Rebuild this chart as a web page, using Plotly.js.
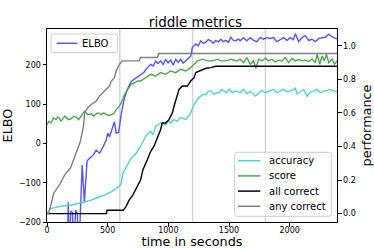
<!DOCTYPE html>
<html>
<head>
<meta charset="utf-8">
<script src="https://cdn.plot.ly/plotly-3.0.1.min.js"></script>
<style>html,body{margin:0;padding:0;background:#fff;}#chart{width:374px;height:249px;}</style>
</head>
<body>
<div id="chart"></div>
<script>
// ELBO (left axis)
const elboTime = [0,160,175,185,195,210,222,235,250,262,275,290,308,330,345,365,385,405,420,434,462,488,501,515,542,556,570,590,612,635,663,696,732,777,800,812,833,854,875,895,915,936,957,978,998,1019,1040,1061,1081,1102,1122,1143,1164,1185,1198,1226,1247,1267,1288,1308,1329,1350,1370,1391,1412,1432,1453,1474,1494,1515,1536,1556,1577,1592,1620,1647,1675,1702,1730,1757,1785,1812,1840,1868,1895,1922,1950,1978,2005,2030,2047,2074,2102,2129,2157,2184,2212,2240,2267,2294,2322,2350,2377,2390];
const elbo = [-400,-400,-150,-300,-172,-176,-300,-170,-178,-300,-175,-55,-150,-45,-40,-34,-28,-17,-22,-25,-9,8,26,17,42,55,26,28,75,112,138,158,166,176,181,187,195,201,197,209,203,210,201,213,205,212,199,214,206,214,204,210,215,222,244,253,248,261,255,257,264,261,255,262,258,265,259,262,257,270,262,261,266,261,269,261,269,262,259,269,265,269,267,269,259,265,269,262,269,264,279,259,269,274,262,265,259,267,269,270,278,271,267,266];

// performance (right axis)
const accTime = [0,28,55,110,198,254,308,364,418,474,529,570,598,608,625,653,694,736,771,812,854,875,895,936,978,1000,1019,1047,1074,1095,1116,1143,1164,1184,1212,1240,1267,1288,1308,1329,1350,1377,1398,1418,1440,1457,1480,1501,1529,1548,1565,1592,1620,1647,1675,1716,1744,1771,1799,1840,1868,1895,1923,1950,1978,2019,2047,2060,2088,2116,2143,2171,2198,2226,2253,2281,2309,2336,2364,2390];
const accuracy = [0,0.03,0.034,0.044,0.05,0.06,0.07,0.08,0.096,0.11,0.13,0.15,0.16,0.17,0.24,0.28,0.33,0.36,0.40,0.46,0.49,0.47,0.52,0.54,0.53,0.55,0.54,0.56,0.55,0.57,0.57,0.56,0.58,0.60,0.65,0.68,0.70,0.71,0.71,0.73,0.73,0.71,0.72,0.72,0.74,0.73,0.72,0.74,0.72,0.73,0.73,0.72,0.74,0.714,0.73,0.70,0.72,0.734,0.72,0.73,0.74,0.72,0.73,0.74,0.726,0.734,0.746,0.714,0.726,0.74,0.70,0.726,0.73,0.74,0.72,0.73,0.734,0.74,0.73,0.726];

const scoreTime = [0,17,33,55,74,90,102,115,129,145,157,175,198,220,240,260,281,308,336,364,385,405,425,446,468,488,510,529,550,570,597,625,639,666,694,722,749,771,812,854,895,936,978,1019,1061,1102,1143,1184,1212,1240,1281,1322,1364,1405,1432,1474,1515,1556,1565,1592,1620,1647,1675,1702,1722,1744,1771,1799,1826,1854,1881,1909,1936,1964,1991,2019,2047,2074,2102,2129,2157,2184,2212,2226,2248,2267,2286,2303,2322,2350,2369,2390];
const score = [0.53,0.55,0.54,0.57,0.56,0.575,0.57,0.55,0.565,0.58,0.575,0.56,0.565,0.58,0.575,0.56,0.58,0.61,0.59,0.595,0.58,0.595,0.60,0.59,0.60,0.59,0.585,0.59,0.595,0.62,0.64,0.68,0.71,0.74,0.77,0.78,0.79,0.79,0.81,0.83,0.82,0.84,0.83,0.85,0.84,0.86,0.85,0.87,0.89,0.91,0.92,0.91,0.91,0.92,0.91,0.91,0.92,0.91,0.91,0.92,0.90,0.93,0.89,0.91,0.866,0.92,0.91,0.926,0.91,0.92,0.904,0.914,0.91,0.93,0.90,0.926,0.91,0.918,0.91,0.914,0.906,0.92,0.90,0.95,0.89,0.94,0.91,0.95,0.90,0.92,0.89,0.91];

const allTime = [0,490,495,628,650,677,707,735,771,790,805,826,854,881,909,936,950,978,1005,1033,1047,1069,1088,1116,1157,1184,1212,1226,1253,1281,1310,1350,1391,2390];
const allCorrect = [0,0,0.02,0.02,0.04,0.08,0.11,0.15,0.20,0.26,0.29,0.32,0.37,0.40,0.45,0.50,0.54,0.54,0.56,0.60,0.64,0.69,0.74,0.76,0.76,0.79,0.81,0.84,0.85,0.86,0.866,0.87,0.878,0.878];

const anyTime = [0,13,28,55,83,110,138,165,193,220,248,275,300,310,335,364,405,432,460,488,515,530,556,570,597,620,700,760,770,910,920,2390];
const anyCorrect = [0,0,0.04,0.12,0.15,0.18,0.22,0.25,0.27,0.32,0.37,0.43,0.52,0.60,0.63,0.65,0.67,0.70,0.72,0.74,0.76,0.79,0.81,0.85,0.89,0.91,0.91,0.91,0.93,0.93,0.954,0.954];

const markerTimes = [600,1200,1800];
const xTicks = [0,500,1000,1500,2000];
const leftNames = ['ELBO'];
const rightNames = ['accuracy','score','all correct','any correct'];
const colors = {'ELBO':'#5555ff','accuracy':'#4fd4d4','score':'#4da64d','all correct':'#000000','any correct':'#808080'};

const F = 'DejaVu Sans, Arial, sans-serif';
const W = 374, H = 249, M = {l: 47, r: 37, t: 29, b: 27};
const PW = W - M.l - M.r, PH = H - M.t - M.b;
const px = v => (v - M.l) / PW;          // pixel -> paper x
const py = v => (M.t + PH - v) / PH;     // pixel -> paper y

const traces = [
  {x: elboTime, y: elbo, name: 'ELBO', mode: 'lines', line: {color: colors['ELBO'], width: 1.4}, yaxis: 'y'},
  {x: accTime, y: accuracy, name: 'accuracy', mode: 'lines', line: {color: colors['accuracy'], width: 1.4}, yaxis: 'y2'},
  {x: scoreTime, y: score, name: 'score', mode: 'lines', line: {color: colors['score'], width: 1.4}, yaxis: 'y2'},
  {x: allTime, y: allCorrect, name: 'all correct', mode: 'lines', line: {color: colors['all correct'], width: 1.4}, yaxis: 'y2'},
  {x: anyTime, y: anyCorrect, name: 'any correct', mode: 'lines', line: {color: colors['any correct'], width: 1.4}, yaxis: 'y2'}
];

const shapes = markerTimes.map(t => ({type: 'line', xref: 'x', yref: 'paper', x0: t, x1: t, y0: 0, y1: 1, line: {color: '#d3d3d3', width: 1.5}, layer: 'below'}));
const annotations = [];

function roundBox(x0, y0, x1, y1, r) {
  const rx = r / PW, ry = r / PH;
  const X0 = px(x0), X1 = px(x1), Y0 = py(y0), Y1 = py(y1); // Y0 top, Y1 bottom
  return `M${X0+rx},${Y0} L${X1-rx},${Y0} Q${X1},${Y0} ${X1},${Y0-ry} L${X1},${Y1+ry} Q${X1},${Y1} ${X1-rx},${Y1} L${X0+rx},${Y1} Q${X0},${Y1} ${X0},${Y1+ry} L${X0},${Y0-ry} Q${X0},${Y0} ${X0+rx},${Y0} Z`;
}
function addLegend(names, box, firstY, step, sx0, sx1, tx) {
  shapes.push({type: 'path', xref: 'paper', yref: 'paper', path: roundBox(box[0], box[1], box[2], box[3], 2.5),
               fillcolor: 'rgba(255,255,255,0.8)', line: {color: '#cccccc', width: 1}, layer: 'above'});
  names.forEach((n, i) => {
    const yy = firstY + i * step;
    shapes.push({type: 'line', xref: 'paper', yref: 'paper', x0: px(sx0), x1: px(sx1), y0: py(yy), y1: py(yy),
                 line: {color: colors[n], width: 1.5}, layer: 'above'});
    annotations.push({text: n, xref: 'paper', yref: 'paper', x: px(tx), y: py(yy), xanchor: 'left', yanchor: 'middle',
                      showarrow: false, font: {family: F, size: 10, color: '#000'}, borderpad: 0, borderwidth: 0});
  });
}
addLegend(leftNames, [51, 34, 117.3, 52.7], 43.3, 0, 56.7, 77.3, 81.5);
addLegend(rightNames, [234.7, 152.3, 331.3, 216.3], 160.7, 15.2, 238, 260.3, 268.5);

const layout = {
  width: W, height: H,
  margin: {l: M.l, r: M.r, t: M.t, b: M.b, pad: 0},
  paper_bgcolor: '#fff', plot_bgcolor: '#fff',
  font: {family: F, size: 8, color: '#000'},
  title: {text: 'riddle metrics', font: {family: F, size: 13.5, color: '#000'}, x: 0.512, xanchor: 'center', y: 0.912, yanchor: 'middle', xref: 'paper'},
  showlegend: false,
  xaxis: {range: [0, 2390], tickvals: xTicks, ticks: 'outside', ticklen: 3.5, tickcolor: '#000', showgrid: false, zeroline: false,
          showline: true, mirror: true, linecolor: '#000', linewidth: 1, tickfont: {family: F, size: 8}, ticklabelstandoff: -3,
          title: {text: 'time in seconds', font: {family: F, size: 12.8}, standoff: 14}, automargin: false},
  yaxis: {range: [-200, 291], tickvals: [-200,-100,0,100,200], ticks: 'outside', ticklen: 3.5, tickcolor: '#000', showgrid: false, zeroline: false,
          showline: true, mirror: true, linecolor: '#000', linewidth: 1, tickfont: {family: F, size: 8},
          title: {text: 'ELBO', font: {family: F, size: 12.8}, standoff: 7}, automargin: false},
  yaxis2: {range: [-0.05, 1.1], tickvals: [0,0.2,0.4,0.6,0.8,1.0], tickformat: '.1f', overlaying: 'y', side: 'right', ticks: 'outside', ticklen: 3.5, tickcolor: '#000',
          showgrid: false, zeroline: false, showline: false, tickfont: {family: F, size: 8},
          title: {text: 'performance', font: {family: F, size: 12.8}, standoff: 10}, automargin: false},
  shapes: shapes,
  annotations: annotations
};

Plotly.newPlot('chart', traces, layout, {staticPlot: true, displayModeBar: false});
</script>
</body>
</html>
